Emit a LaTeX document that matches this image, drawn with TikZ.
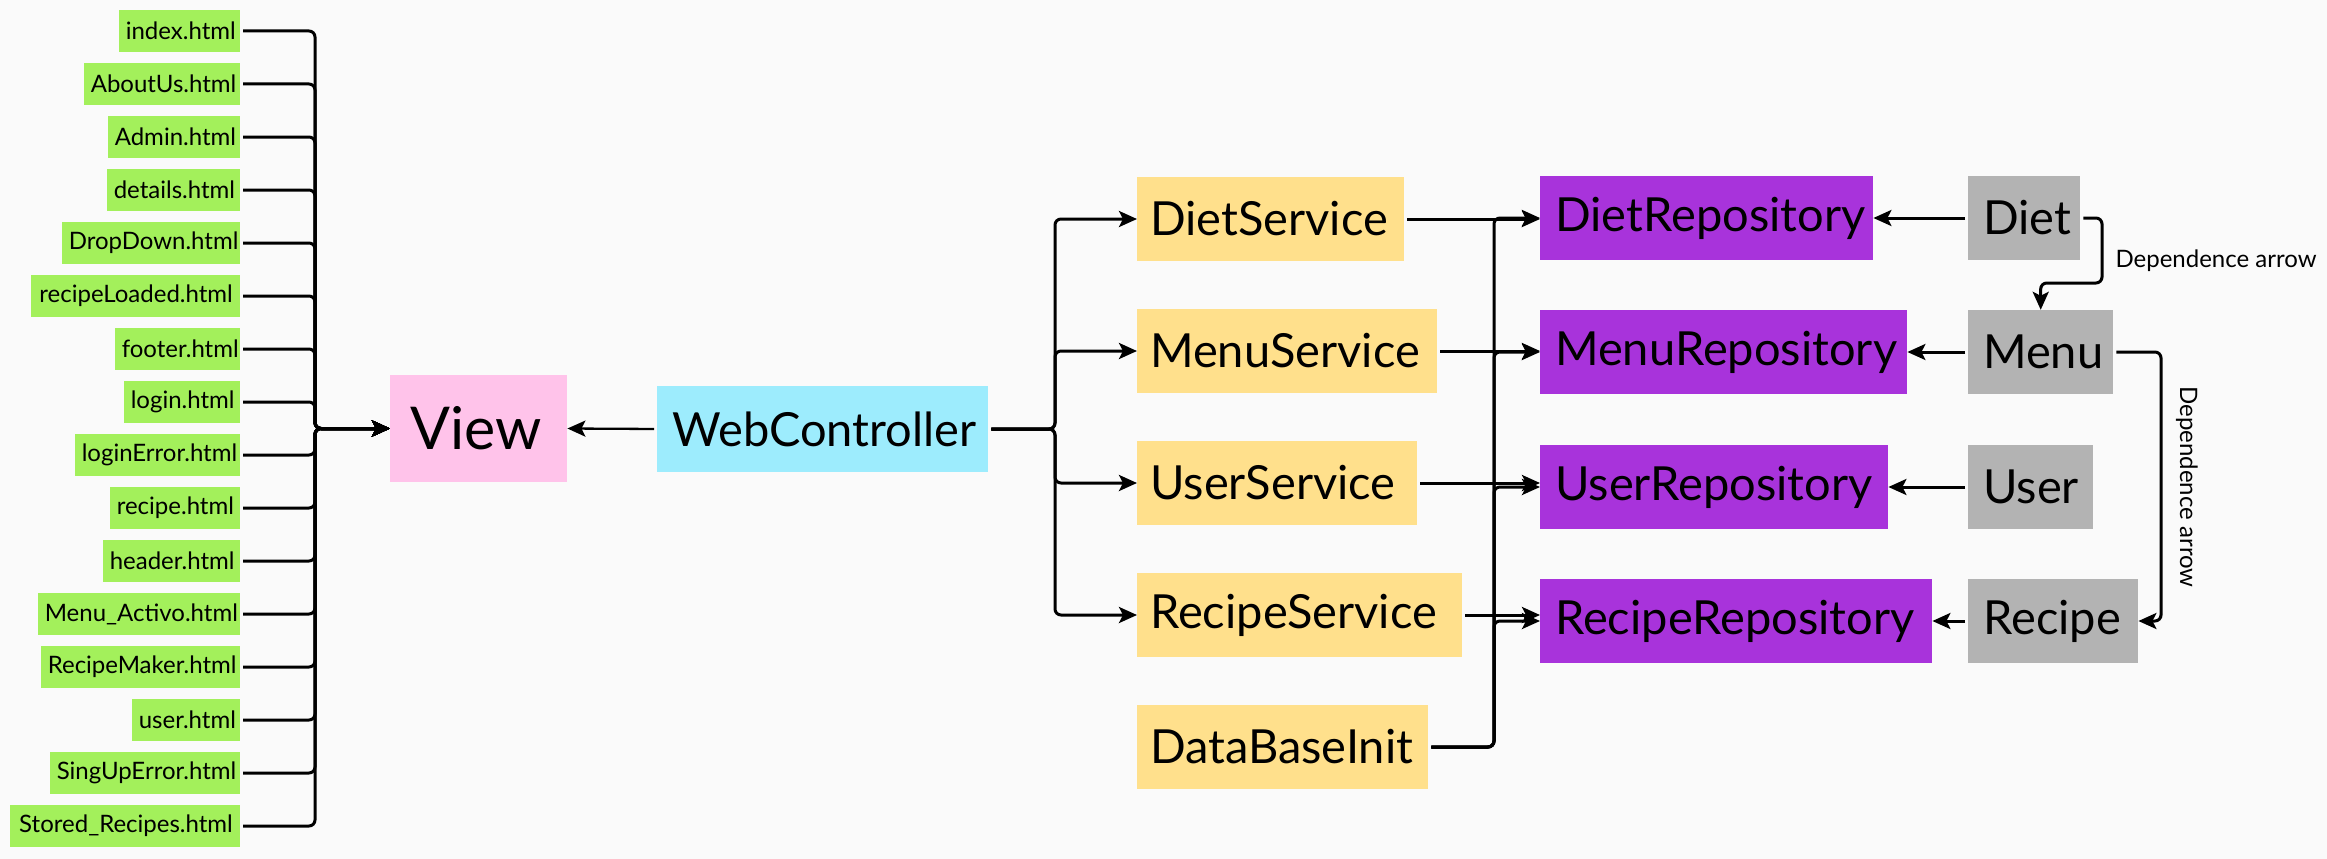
\documentclass[tikz,border=0pt]{standalone}
\usepackage{fontspec}
\setmainfont{Lato}
\usetikzlibrary{arrows.meta,calc}
\definecolor{bg}{HTML}{FAFAFA}
\definecolor{gr}{HTML}{A3F05B}
\definecolor{pk}{HTML}{FFC3EA}
\definecolor{cy}{HTML}{9DECFD}
\definecolor{yl}{HTML}{FFE08C}
\definecolor{pu}{HTML}{A833DB}
\definecolor{gy}{HTML}{B3B3B3}
\begin{document}
\begin{tikzpicture}[x=1pt,y=-1pt,
  gbox/.style={fill=gr, inner xsep=7pt, inner ysep=0pt, minimum height=42pt, align=right, font=\fontsize{24}{28}\selectfont, anchor=east},
  bigbox/.style={inner xsep=13pt, inner ysep=0pt, minimum height=84pt, align=left, font=\fontsize{47}{54}\selectfont, anchor=west},
  svc/.style={bigbox, fill=yl},
  repo/.style={bigbox, fill=pu, inner xsep=15pt},
  ent/.style={bigbox, fill=gy, inner xsep=15pt},
  conn/.style={line width=3pt, rounded corners=6pt},
  arr/.style={-{Stealth[length=18pt,width=16pt,inset=4pt]}},
  lbl/.style={font=\fontsize{24}{28}\selectfont}
]
\useasboundingbox (0,0) rectangle (2327,859);
\fill[bg] (0,0) rectangle (2327,859);

% green html files
\foreach \l/\t [count=\i] in {119/index.html,84/AboutUs.html,108/Admin.html,107/details.html,62/DropDown.html,31/recipeLoaded.html,115/footer.html,124/login.html,75/loginError.html,110/recipe.html,103/header.html,38/Menu\_Activo.html,41/RecipeMaker.html,132/user.html,50/SingUpError.html,10/Stored\_Recipes.html}{
  \pgfmathsetmacro\tw{226-\l}
  \pgfmathsetmacro\yy{31+53*(\i-1)}
  \node[gbox, text width=\tw pt] (g\i) at (240,\yy) {\t};
}

\node[fill=pk, inner xsep=20pt, inner ysep=0pt, minimum height=107pt, text width=137pt, align=left, font=\fontsize{59}{64}\selectfont, anchor=west] (view) at (390,428.5) {View};
\node[fill=cy, inner xsep=15pt, inner ysep=0pt, minimum height=86pt, text width=301pt, align=left, font=\fontsize{47}{54}\selectfont, anchor=west] (wc) at (657,429) {WebController};

\node[svc, text width=241pt] (sd) at (1137,219) {DietService};
\node[svc, text width=274pt] (sm) at (1137,351) {MenuService};
\node[svc, text width=254pt] (su) at (1137,483) {UserService};
\node[svc, text width=299pt] (sr) at (1137,615) {RecipeService};
\node[svc, text width=265pt] (sb) at (1137,747) {DataBaseInit};

\node[repo, text width=303pt] (rd) at (1540,218) {DietRepository};
\node[repo, text width=337pt] (rm) at (1540,352) {MenuRepository};
\node[repo, text width=318pt] (ru) at (1540,487) {UserRepository};
\node[repo, text width=362pt] (rr) at (1540,621) {RecipeRepository};

\node[ent, text width=82pt] (ed) at (1968,218) {Diet};
\node[ent, text width=115pt] (em) at (1968,352) {Menu};
\node[ent, text width=95pt] (eu) at (1968,487) {User};
\node[ent, text width=140pt] (er) at (1968,621) {Recipe};

\coordinate (gj) at (315,428.5);
\coordinate (wcb) at (1055,429);
\coordinate (dbb) at (1494,747);
\coordinate (d1) at (2102,283);
\coordinate (d2) at (2161,500);

% html -> View
\foreach \i in {1,...,16}{
  \draw[conn, arr, shorten <=3pt] (g\i.east) -| (gj) -- (view.west);
}
% WebController -> View
\draw[line width=2.3pt, arr, shorten <=3pt] (wc.west) -- (view.east);
% WebController -> services
\foreach \s in {sd,sm,su,sr}{
  \draw[conn, arr, shorten <=3pt] (wc.east) -- (wcb) |- (\s.west);
}
% services -> repositories
\draw[conn, arr, shorten <=3pt] (sd.east) -- (sd.east -| rd.west);
\draw[conn, arr, shorten <=3pt] (sm.east) -- (sm.east -| rm.west);
\draw[conn, arr, shorten <=3pt] (su.east) -- (su.east -| ru.west);
\draw[conn, arr, shorten <=3pt] (sr.east) -- (sr.east -| rr.west);
% DataBaseInit -> repositories
\foreach \r in {rd,rm,ru,rr}{
  \draw[conn, arr, shorten <=3pt] (sb.east) -- (dbb) |- (\r.west);
}
% entities -> repositories
\draw[conn, arr, shorten <=3pt] (ed.west) -- (ed.west -| rd.east);
\draw[conn, arr, shorten <=3pt] (em.west) -- (em.west -| rm.east);
\draw[conn, arr, shorten <=3pt] (eu.west) -- (eu.west -| ru.east);
\draw[conn, arr, shorten <=3pt] (er.west) -- (er.west -| rr.east);
% dependence arrows
\draw[conn, arr, shorten <=3pt] (ed.east) -| (d1) -| (em.north);
\draw[conn, arr, shorten <=3pt] (em.east) -| (d2) |- (er.east);
\node[lbl, anchor=west] (l1) at (2112,261) {Dependence arrow};
\node[lbl, rotate=-90] (l2) at (2187,487) {Dependence arrow};
\end{tikzpicture}
\end{document}
